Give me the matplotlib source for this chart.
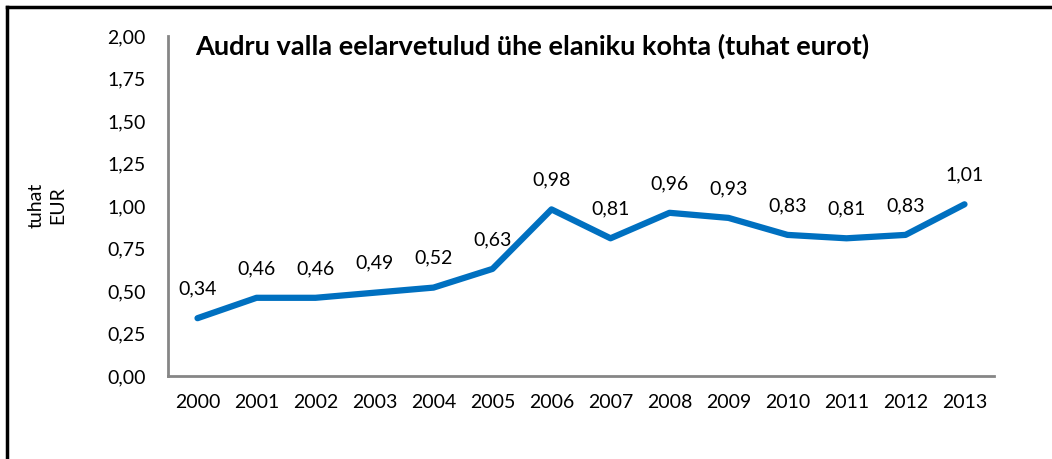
import matplotlib.pyplot as plt
from matplotlib.lines import Line2D

years = ['2000', '2001', '2002', '2003', '2004', '2005', '2006',
         '2007', '2008', '2009', '2010', '2011', '2012', '2013']
values = [0.34, 0.46, 0.46, 0.49, 0.52, 0.63, 0.98,
          0.81, 0.96, 0.93, 0.83, 0.81, 0.83, 1.01]
y_ticks = [0.0, 0.25, 0.5, 0.75, 1.0, 1.25, 1.5, 1.75, 2.0]

plt.rcParams['font.family'] = ['Lato', 'DejaVu Sans']

fig = plt.figure(figsize=(10.52, 4.59), dpi=100)
ax = fig.add_axes([168 / 1052, 1 - 376 / 459, (994 - 168) / 1052, (376 - 36) / 459])

x = list(range(len(years)))
ax.plot(x, values, color='#0070C0', linewidth=4.5, solid_capstyle='round',
        solid_joinstyle='round')
for xi, v in zip(x, values):
    ax.annotate(f'{v:.2f}'.replace('.', ','), (xi, v), xytext=(0, 15),
                textcoords='offset points', ha='center', va='bottom', fontsize=14)

ax.set_xlim(-0.5, len(years) - 0.5)
ax.set_ylim(0, 2)
ax.set_xticks(x)
ax.set_xticklabels(years, fontsize=14)
ax.set_yticks(y_ticks)
ax.set_yticklabels([f'{t:.2f}'.replace('.', ',') for t in y_ticks], fontsize=14)
ax.tick_params(length=0, pad=13)
ax.tick_params(axis='y', pad=16)

for s in ['top', 'right']:
    ax.spines[s].set_visible(False)
for s in ['left', 'bottom']:
    ax.spines[s].set_color('#868686')
    ax.spines[s].set_linewidth(2)

ax.text(0.033, 0.97, 'Audru valla eelarvetulud ühe elaniku kohta (tuhat eurot)',
        transform=ax.transAxes, fontsize=19.5, fontweight='bold', va='center', ha='left')

fig.text(47 / 1052, 1 - 205 / 459, 'tuhat\nEUR', rotation=90, ha='center', va='center',
         fontsize=14, linespacing=1.3)

# outer frame (only top and left edges visible)
fig.add_artist(Line2D([7 / 1052, 1], [1 - 7 / 459, 1 - 7 / 459], color='black',
                      linewidth=2.5, transform=fig.transFigure))
fig.add_artist(Line2D([7 / 1052, 7 / 1052], [0, 1 - 7 / 459], color='black',
                      linewidth=2.5, transform=fig.transFigure))

fig.savefig('out.png', dpi=100)
